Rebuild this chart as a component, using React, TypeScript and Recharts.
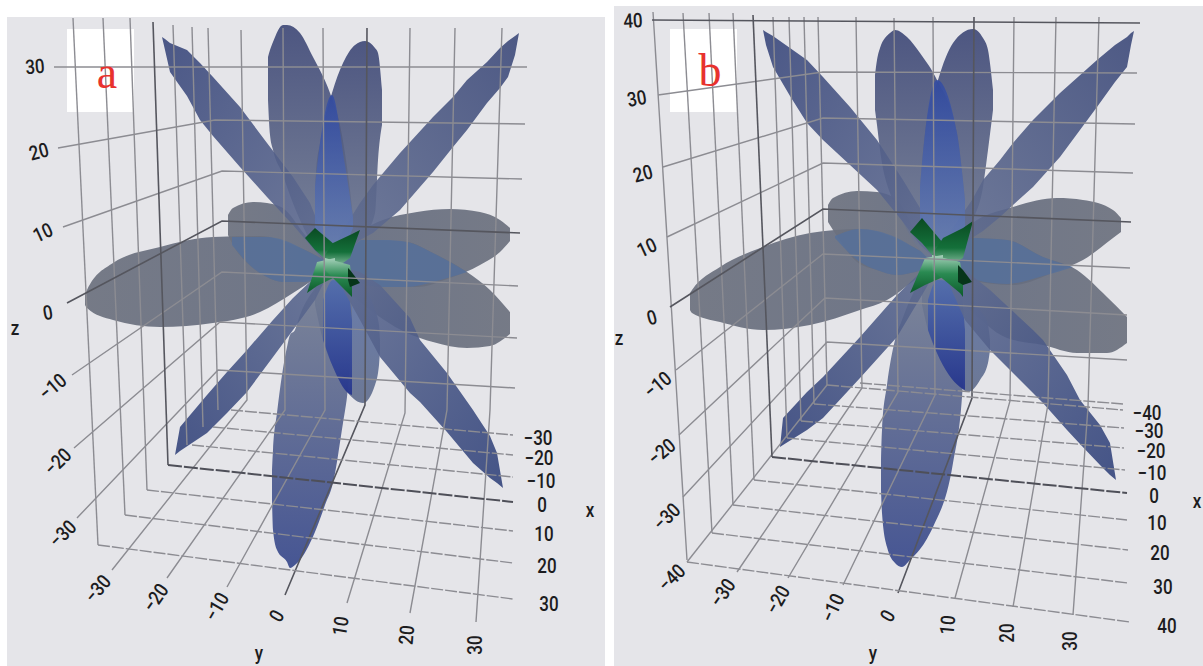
import { ComposedChart, Area, Line, Scatter, XAxis, YAxis } from 'recharts'

// Everything: [x, y, x, y, ...] for grid paths, [x, low, high] for petals

type Row = [number, number, number]
type Tick = [string, number, number, number]

const wallA = [
  [54, 67, 527, 67],
  [58, 148, 215, 120, 525, 124],
  [63, 227, 222, 171, 522, 179],
  [72, 375, 222, 272, 518, 286],
  [74, 448, 220, 322, 517, 338],
  [77, 518, 218, 370, 515, 388],
  [73, 18, 98, 545],
  [103, 18, 125, 515],
  [130, 18, 147, 490],
  [173, 25, 187, 445],
  [192, 27, 203, 427],
  [208, 28, 218, 410],
  [241, 30, 247, 400, 112, 570],
  [283, 28, 285, 410, 167, 578],
  [323, 28, 325, 410, 227, 587],
  [410, 28, 405, 413, 347, 603],
  [455, 28, 447, 410, 410, 613],
  [502, 28, 490, 410, 476, 622],
]
const heavyA = [
  [67, 303, 222, 221, 520, 233],
  [153, 22, 168, 465],
  [367, 28, 365, 405, 285, 595],
]
const floorA = [
  [231, 410, 513, 435],
  [213, 427, 513, 455],
  [192, 445, 513, 477],
  [147, 490, 513, 531],
  [125, 515, 513, 563],
  [98, 545, 513, 599],
]
const floorHeavyA = [[168, 465, 513, 502]]

const wallB = [
  [658, 95, 823, 72, 1137, 73],
  [663, 167, 823, 118, 1135, 124],
  [667, 237, 823, 163, 1133, 173],
  [676, 370, 823, 254, 1130, 268],
  [679, 435, 825, 298, 1127, 315],
  [683, 497, 827, 342, 1127, 360],
  [687, 562, 827, 385],
  [653, 12, 687, 560],
  [683, 13, 712, 533],
  [709, 13, 733, 505],
  [733, 13, 754, 480],
  [773, 17, 787, 438],
  [789, 17, 801, 421],
  [804, 17, 814, 404],
  [818, 17, 827, 385],
  [856, 17, 862, 388, 737, 572],
  [894, 18, 898, 392, 788, 578],
  [933, 17, 935, 395, 843, 585],
  [1014, 17, 1010, 401, 955, 598],
  [1056, 17, 1048, 404, 1013, 607],
  [1099, 17, 1088, 407, 1073, 615],
]
const heavyB = [
  [652, 20, 1140, 23],
  [670, 307, 823, 209, 1131, 222],
  [753, 15, 772, 457],
  [974, 17, 972, 398, 898, 593],
]
const floorB = [
  [860, 383, 1123, 404],
  [827, 385, 1123, 410],
  [814, 404, 1124, 428],
  [801, 421, 1124, 448],
  [787, 438, 1125, 470],
  [754, 480, 1127, 520],
  [733, 505, 1128, 550],
  [712, 533, 1128, 583],
  [687, 562, 1130, 622],
]
const floorHeavyB = [[772, 457, 1127, 493]]

const lobesLeftA: Row[][] = [
  [[85, 295, 305], [87, 290, 308], [113, 263, 320], [160, 247, 327], [213, 237, 323], [260, 236, 312], [293, 245, 293], [315, 255, 278], [330, 265, 265]],
  [[228, 215, 235], [233, 208, 245], [253, 202, 268], [267, 203, 277], [283, 208, 282], [305, 235, 280], [330, 262, 265]],
]
const lobesRightA: Row[][] = [
  [[330, 265, 265], [360, 232, 283], [383, 220, 287], [417, 212, 287], [450, 209, 278], [480, 212, 265], [500, 220, 252], [510, 228, 241]],
  [[340, 252, 285], [360, 240, 302], [407, 242, 333], [433, 253, 342], [467, 272, 348], [490, 290, 346], [510, 312, 334]],
]
const lobeLensA: Row[][] = [
  [[232, 237, 245], [253, 237, 268], [267, 237, 277], [283, 240, 282], [305, 250, 282], [330, 263, 265]],
  [[340, 252, 270], [360, 240, 283], [383, 240, 287], [407, 242, 287], [433, 253, 282], [467, 272, 272]],
]
const upperLeftA: Row[] = [[162, 37, 37], [165, 39, 50], [170, 43, 72], [187, 50, 96], [200, 63, 120], [213, 77, 136], [240, 107, 167], [267, 143, 197], [293, 177, 225], [310, 203, 245], [325, 240, 262], [330, 262, 262]]
const upperRightA: Row[] = [[330, 262, 262], [340, 235, 258], [360, 203, 240], [373, 185, 233], [400, 153, 210], [433, 117, 172], [453, 97, 147], [467, 80, 130], [487, 62, 103], [500, 48, 88], [508, 41, 77], [515, 36, 55], [519, 33, 33]]
const lowerLeftA: Row[] = [[175, 455, 455], [180, 427, 451], [207, 395, 433], [227, 372, 413], [247, 350, 392], [273, 320, 357], [293, 298, 330], [315, 277, 300], [325, 268, 280]]
const lowerRightA: Row[] = [[335, 265, 275], [360, 272, 320], [380, 285, 357], [410, 318, 393], [420, 340, 402], [447, 373, 432], [473, 410, 463], [490, 436, 478], [497, 453, 483], [503, 488, 488]]
const topsA: Row[][] = [
  [[268, 57, 100], [270, 50, 135], [273, 42, 150], [283, 25, 175], [287, 25, 187], [300, 33, 220], [313, 57, 245], [330, 93, 262], [340, 125, 250], [350, 190, 238], [353, 217, 228]],
  [[315, 187, 225], [316, 172, 240], [320, 143, 250], [332, 93, 262], [343, 63, 258], [355, 45, 245], [365, 41, 235], [375, 48, 213], [378, 53, 160], [382, 90, 125]],
]
const topLensA: Row[] = [[315, 187, 235], [320, 143, 245], [332, 95, 255], [345, 165, 245], [353, 217, 228]]
const backA: Row[] = [[315, 285, 305], [323, 275, 340], [333, 268, 367], [348, 272, 393], [363, 285, 403], [375, 310, 385], [379, 325, 365], [380, 340, 350]]
const bottomA: Row[] = [[272, 470, 500], [273, 450, 530], [277, 413, 550], [287, 347, 562], [290, 335, 568], [295, 330, 565], [300, 315, 560], [317, 285, 527], [325, 272, 505], [333, 270, 483], [343, 275, 423], [347, 280, 397], [352, 300, 345]]
const bottomLensA: Row[] = [[323, 300, 340], [333, 280, 367], [348, 290, 393], [352, 320, 395]]
const starUpA: Row[][] = [
  [[305, 238, 238], [315, 228, 250], [335, 245, 268]],
  [[325, 255, 268], [333, 243, 270], [350, 235, 258], [360, 230, 230]],
]
const starDownA: Row[][] = [
  [[307, 293, 293], [317, 262, 286], [335, 258, 277]],
  [[325, 258, 270], [350, 265, 295], [352, 280, 297]],
]
const starDarkA: Row[] = [[348, 268, 280], [350, 270, 287], [360, 283, 283]]

const lobesLeftB: Row[][] = [
  [[690, 293, 310], [692, 290, 313], [720, 267, 322], [763, 247, 330], [810, 233, 325], [860, 229, 310], [887, 235, 300], [915, 248, 280], [938, 262, 265]],
  [[828, 205, 222], [833, 198, 230], [857, 191, 262], [877, 192, 270], [897, 200, 275], [915, 230, 272], [938, 260, 264]],
]
const lobesRightB: Row[][] = [
  [[938, 262, 265], [970, 225, 280], [1013, 207, 285], [1057, 198, 271], [1083, 200, 260], [1113, 210, 238], [1121, 218, 232]],
  [[945, 252, 285], [965, 238, 305], [1007, 240, 338], [1043, 257, 345], [1077, 270, 353], [1107, 297, 353], [1127, 317, 343]],
]
const lobeLensB: Row[][] = [
  [[835, 236, 238], [860, 229, 262], [877, 231, 270], [897, 238, 275], [915, 248, 272], [938, 261, 264]],
  [[945, 252, 268], [965, 238, 277], [1007, 240, 284], [1043, 257, 276], [1073, 267, 267]],
]
const upperLeftB: Row[] = [[763, 30, 30], [766, 32, 45], [773, 36, 67], [790, 48, 96], [807, 60, 123], [823, 77, 140], [850, 107, 165], [877, 140, 190], [903, 180, 222], [920, 208, 245], [935, 258, 258]]
const upperRightB: Row[] = [[938, 262, 262], [950, 232, 258], [972, 200, 238], [983, 180, 231], [1000, 160, 217], [1013, 143, 205], [1033, 120, 187], [1060, 93, 157], [1097, 60, 107], [1115, 45, 82], [1127, 37, 67], [1131, 33, 45], [1134, 31, 31]]
const lowerLeftB: Row[] = [[780, 447, 447], [783, 418, 445], [807, 392, 430], [823, 377, 418], [860, 337, 378], [897, 295, 337], [925, 268, 290], [935, 262, 272]]
const lowerRightB: Row[] = [[945, 265, 275], [965, 270, 320], [990, 290, 350], [1033, 330, 393], [1043, 340, 403], [1067, 375, 430], [1080, 400, 444], [1100, 425, 465], [1110, 443, 475], [1116, 480, 480]]
const topsB: Row[][] = [
  [[875, 75, 110], [877, 60, 125], [880, 48, 150], [890, 33, 193], [895, 30, 205], [907, 37, 230], [920, 53, 250], [937, 80, 262], [957, 133, 245], [965, 200, 235]],
  [[920, 187, 225], [925, 133, 245], [938, 80, 262], [953, 43, 255], [973, 29, 220], [983, 38, 187], [988, 50, 150], [993, 90, 110]],
]
const topLensB: Row[] = [[920, 187, 240], [925, 133, 245], [937, 80, 255], [957, 133, 245], [965, 200, 235]]
const backB: Row[] = [[922, 285, 305], [928, 272, 330], [937, 265, 353], [960, 275, 387], [968, 290, 392], [980, 310, 380], [988, 325, 363], [990, 340, 350]]
const bottomB: Row[] = [[881, 460, 490], [882, 430, 513], [887, 385, 547], [895, 340, 563], [902, 320, 567], [910, 300, 560], [925, 275, 542], [933, 270, 527], [953, 280, 463], [962, 300, 397], [965, 330, 350]]
const bottomLensB: Row[] = [[928, 300, 330], [937, 280, 353], [960, 285, 387], [965, 330, 390]]
const starUpB: Row[][] = [
  [[910, 232, 232], [922, 218, 243], [943, 243, 268]],
  [[932, 255, 268], [943, 238, 270], [963, 228, 258], [973, 221, 221]],
]
const starDownB: Row[][] = [
  [[910, 293, 293], [925, 258, 285], [943, 255, 277]],
  [[932, 255, 270], [960, 262, 293], [963, 278, 297]],
]
const starDarkB: Row[] = [[958, 265, 282], [963, 270, 285], [972, 282, 282]]

const ticksA: Tick[] = [
  ['30', 35, 67, -5], ['20', 39, 152, -15], ['10', 43, 233, -25], ['0', 48, 313, -10],
  ['−10', 53, 387, -40], ['−20', 58, 462, -45], ['−30', 63, 534, -45],
  ['−30', 98, 589, -50], ['−20', 156, 598, -55], ['−10', 217, 607, -60], ['0', 277, 616, -60],
  ['10', 341, 626, -80], ['20', 407, 635, -85], ['30', 476, 645, -90],
  ['−30', 538, 439, 0], ['−20', 539, 459, 0], ['−10', 541, 482, 0], ['0', 542, 506, 0],
  ['10', 544, 535, 0], ['20', 547, 567, 0], ['30', 549, 605, 0],
  ['z', 15, 329, 0], ['y', 259, 654, 0], ['x', 590, 511, 0],
]
const ticksB: Tick[] = [
  ['40', 633, 21, -3], ['30', 637, 99, -10], ['20', 643, 174, -15], ['10', 647, 248, -25], ['0', 652, 318, -15],
  ['−10', 658, 385, -40], ['−20', 662, 452, -40], ['−30', 667, 517, -45], ['−40', 672, 578, -45],
  ['−30', 723, 593, -55], ['−20', 778, 600, -60], ['−10', 833, 608, -65], ['0', 888, 616, -60],
  ['10', 948, 625, -85], ['20', 1008, 633, -90], ['30', 1071, 641, -90],
  ['−40', 1147, 414, 0], ['−30', 1149, 432, 0], ['−20', 1151, 452, 0], ['−10', 1152, 474, 0], ['0', 1154, 497, 0],
  ['10', 1157, 524, 0], ['20', 1160, 554, 0], ['30', 1163, 588, 0], ['40', 1167, 627, 0],
  ['z', 619, 339, 0], ['y', 873, 654, 0], ['x', 1197, 502, 0],
]

const toPoints = (path: number[]) => {
  const out = []
  for (let i = 0; i < path.length; i += 2) out.push({ x: path[i], y: path[i + 1] })
  return out
}
const toRows = (rows: Row[]) => rows.map(([x, lo, hi]) => ({ x, r: [lo, hi] }))

function TickText(props: any) {
  const { cx, cy, payload } = props
  return (
    <text textAnchor="middle" dominantBaseline="central" transform={`translate(${cx} ${cy}) rotate(${payload.angle}) scale(0.85 1)`}
      fontFamily="Roboto" fontWeight={500} fontSize={20} fill="#1c1c20">
      {payload.text}
    </text>
  )
}

function LetterText(props: any) {
  const { cx, cy, payload } = props
  return (
    <text x={cx} y={cy} textAnchor="middle" dominantBaseline="central" fontFamily="Liberation Serif" fontSize={46} fill="#e8322e">
      {payload.text}
    </text>
  )
}

function petal(key: string, rows: Row[], fill: string, opacity = 0.9, curve: any = 'monotone') {
  return (
    <Area key={key} data={toRows(rows)} dataKey="r" type={curve} stroke="none" fill={fill} fillOpacity={opacity} dot={false} activeDot={false} isAnimationActive={false} />
  )
}

function gridLine(key: string, path: number[], color: string, width: number, dash?: string) {
  return (
    <Line key={key} data={toPoints(path)} dataKey="y" type="linear" stroke={color} strokeWidth={width} strokeDasharray={dash} dot={false} activeDot={false} isAnimationActive={false} />
  )
}

function grad(id: string, x2: number, y2: number, from: string, to: string, x1 = 0, y1 = 0) {
  return (
    <linearGradient id={id} x1={x1} y1={y1} x2={x2} y2={y2}>
      <stop offset="0%" stopColor={from} />
      <stop offset="100%" stopColor={to} />
    </linearGradient>
  )
}

function Panel(p: any) {
  const [left, top, right, bottom] = p.box
  const id = p.id
  return (
    <div style={{ position: 'absolute', left, top, width: right - left, height: bottom - top, background: '#e5e5e9' }}>
      <ComposedChart width={right - left} height={bottom - top} margin={{ top: 0, right: 0, bottom: 0, left: 0 }}>
        <defs>
          {grad(`${id}ul`, 1, 1, '#3a487c', '#636f92')}
          {grad(`${id}ur`, 0, 1, '#3d4a7a', '#657192', 1, 0)}
          {grad(`${id}ll`, 1, 0, '#35457c', '#5f6c90', 0, 1)}
          {grad(`${id}lr`, 1, 1, '#636f92', '#33447c')}
          {grad(`${id}top`, 0, 1, '#3d4776', '#707a90')}
          {grad(`${id}bot`, 0, 1, '#747d90', '#35468a')}
          {grad(`${id}lens`, 0, 1, '#2c48a8', '#6680b8')}
          {grad(`${id}navy`, 0, 1, '#4f6cb0', '#1f2f8c')}
          {grad(`${id}back`, 0, 1, '#5c72a8', '#5f6c8c')}
          {grad(`${id}lobeL`, 1, 0, '#6c717e', '#646c80')}
          {grad(`${id}lobeR`, 1, 0, '#646c80', '#6c717e')}
          <linearGradient id={`${id}up`} x1={0} y1={0} x2={0} y2={1}>
            <stop offset="0%" stopColor="#0a4a22" />
            <stop offset="55%" stopColor="#14703a" />
            <stop offset="100%" stopColor="#a8d2bc" />
          </linearGradient>
          <linearGradient id={`${id}down`} x1={0} y1={0} x2={0} y2={1}>
            <stop offset="0%" stopColor="#a8d2bc" />
            <stop offset="45%" stopColor="#2a8a52" />
            <stop offset="100%" stopColor="#0c5a2a" />
          </linearGradient>
        </defs>
        <XAxis hide type="number" dataKey="x" domain={[left, right]} allowDataOverflow />
        <YAxis hide type="number" dataKey="y" domain={[top, bottom]} reversed allowDataOverflow />

        {p.wall.map((g: number[], i: number) => gridLine(`w${i}`, g, '#8c8c92', 1.4))}
        {p.heavy.map((g: number[], i: number) => gridLine(`h${i}`, g, '#55565e', 1.6))}
        {p.floor.map((g: number[], i: number) => gridLine(`f${i}`, g, '#8c8c92', 1.4, '12 2'))}
        {p.floorHeavy.map((g: number[], i: number) => gridLine(`fh${i}`, g, '#4e4f58', 2, '14 2'))}

        {p.lobesLeft.map((r: Row[], i: number) => petal(`ll${i}`, r, `url(#${id}lobeL)`, 0.92))}
        {p.lobesRight.map((r: Row[], i: number) => petal(`lr${i}`, r, `url(#${id}lobeR)`, 0.92))}
        {p.lobeLens.map((r: Row[], i: number) => petal(`ls${i}`, r, '#55709c', 0.8))}
        {p.tops.map((r: Row[], i: number) => petal(`t${i}`, r, `url(#${id}top)`))}
        {petal('ul', p.upperLeft, `url(#${id}ul)`, 0.9, 'linear')}
        {petal('ur', p.upperRight, `url(#${id}ur)`, 0.9, 'linear')}
        {petal('lens', p.topLens, `url(#${id}lens)`, 0.75)}
        {petal('back', p.back, `url(#${id}back)`)}
        {petal('bot', p.bottom, `url(#${id}bot)`)}
        {petal('navy', p.bottomLens, `url(#${id}navy)`, 0.85)}
        {petal('ll', p.lowerLeft, `url(#${id}ll)`, 0.9, 'linear')}
        {petal('lr', p.lowerRight, `url(#${id}lr)`, 0.9, 'linear')}

        {p.starUp.map((r: Row[], i: number) => petal(`su${i}`, r, `url(#${id}up)`, 1, 'linear'))}
        {p.starDown.map((r: Row[], i: number) => petal(`sd${i}`, r, `url(#${id}down)`, 1, 'linear'))}
        {petal('sx', p.starDark, '#07351a', 1, 'linear')}

        {petal('box', p.labelBox, '#ffffff', 1, 'linear')}
        <Scatter data={[{ x: p.letter[1], y: p.letter[2], text: p.letter[0] }]} shape={LetterText} isAnimationActive={false} />
        <Scatter data={p.ticks.map(([text, x, y, angle]: Tick) => ({ text, x, y, angle }))} shape={TickText} isAnimationActive={false} />
      </ComposedChart>
    </div>
  )
}

export default function App() {
  return (
    <div style={{ position: 'absolute', left: 0, top: 0, width: 1203, height: 666, background: '#fff', overflow: 'hidden' }}>
      <Panel id="a" box={[7, 17, 605, 666]} wall={wallA} heavy={heavyA} floor={floorA} floorHeavy={floorHeavyA}
        lobesLeft={lobesLeftA} lobesRight={lobesRightA} lobeLens={lobeLensA} tops={topsA} upperLeft={upperLeftA} upperRight={upperRightA} topLens={topLensA} back={backA}
        bottom={bottomA} bottomLens={bottomLensA} lowerLeft={lowerLeftA} lowerRight={lowerRightA}
        starUp={starUpA} starDown={starDownA} starDark={starDarkA} ticks={ticksA}
        labelBox={[[67, 29, 112], [134, 29, 112]]} letter={['a', 107, 72]} />
      <Panel id="b" box={[614, 6, 1203, 666]} wall={wallB} heavy={heavyB} floor={floorB} floorHeavy={floorHeavyB}
        lobesLeft={lobesLeftB} lobesRight={lobesRightB} lobeLens={lobeLensB} tops={topsB} upperLeft={upperLeftB} upperRight={upperRightB} topLens={topLensB} back={backB}
        bottom={bottomB} bottomLens={bottomLensB} lowerLeft={lowerLeftB} lowerRight={lowerRightB}
        starUp={starUpB} starDown={starDownB} starDark={starDarkB} ticks={ticksB}
        labelBox={[[670, 29, 112], [737, 29, 112]]} letter={['b', 710, 70]} />
    </div>
  )
}
